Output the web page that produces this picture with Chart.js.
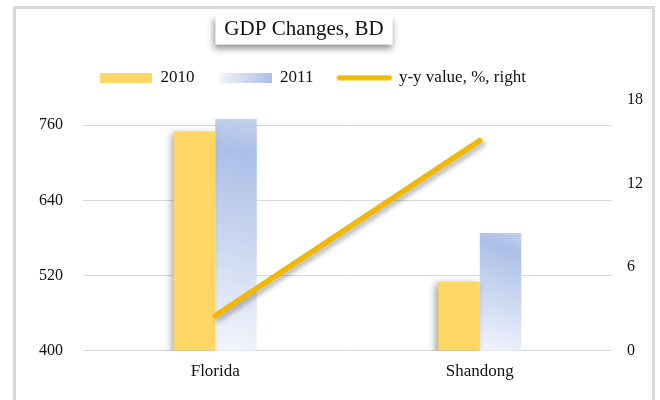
<!DOCTYPE html>
<html>
<head>
<meta charset="utf-8">
<script src="https://cdn.jsdelivr.net/npm/chart.js@4.4.1/dist/chart.umd.min.js"></script>
<style>
  html, body { margin: 0; padding: 0; background: #fff; }
</style>
</head>
<body>
<canvas id="gdp" width="660" height="400"></canvas>
<script>
// chart data
var regions = ['Florida', 'Shandong'];
var gdp2010 = [750, 510];
var gdp2011 = [770, 588];
var yyValue = [2.5, 15.1];
var leftTicks = [400, 520, 640, 760];
var rightTicks = [0, 6, 12, 18];

var SERIF = "'Liberation Serif', 'Times New Roman', serif";
var YELLOW = '#fdd663';
var GOLD = '#f2b800';
var TEXT = '#111';
var CAT_PCT = 0.314;

// gradient from the bottom left corner (light) to the top right corner (blue)
function blueGradient(ctx, x0, y0, x1, y1) {
  var g = ctx.createLinearGradient(x0, y0, x1, y1);
  g.addColorStop(0, '#f3f5fc');
  g.addColorStop(0.85, '#abbfe7');
  g.addColorStop(1, '#c3d1ee');
  return g;
}

// 2011 bars: one gradient per bar, placed from the scales
function bar2011Fill(c) {
  var chart = c.chart;
  var xs = chart.scales.x, ys = chart.scales.y;
  if (!chart.chartArea || !xs || !ys || c.type !== 'data') return '#abbfe7';
  var xc = xs.getPixelForValue(c.dataIndex);
  var bw = xs.width / regions.length * CAT_PCT / 2;
  var top = ys.getPixelForValue(c.raw);
  var base = ys.getPixelForValue(ys.min);
  return blueGradient(chart.ctx, xc, base, xc + bw, top);
}

// legend markers
function marker(w, h, paint) {
  var c = document.createElement('canvas');
  c.width = w; c.height = h;
  paint(c.getContext('2d'), w, h);
  return c;
}
var markers = [
  marker(52, 10, function (c, w, h) { c.fillStyle = YELLOW; c.fillRect(0, 0, w, h); }),
  marker(52, 10, function (c, w, h) {
    var g = c.createLinearGradient(0, 0, w, 0);
    g.addColorStop(0, '#f1f4fb');
    g.addColorStop(1, '#abbfe7');
    c.fillStyle = g; c.fillRect(0, 0, w, h);
  }),
  marker(56, 6, function (c, w, h) {
    c.strokeStyle = GOLD; c.lineWidth = 5; c.lineCap = 'round';
    c.beginPath(); c.moveTo(3, 3); c.lineTo(w - 3, 3); c.stroke();
  })
];

// frame, title box, shadows
var decoPlugin = {
  id: 'deco',
  afterLayout: function (chart) {
    var lg = chart.legend, w = lg.right - lg.left;
    lg.left = 313 - w / 2; lg.right = lg.left + w;
    lg.top -= 4; lg.bottom -= 4;
    var tb = chart.titleBlock, tw = tb.right - tb.left;
    tb.left = 304 - tw / 2; tb.right = tb.left + tw;
  },
  beforeDraw: function (chart) {
    var ctx = chart.ctx;
    ctx.save();
    ctx.strokeStyle = '#d9d9d9';
    ctx.lineWidth = 3;
    ctx.strokeRect(14.5, 7.5, 639, 420);
    // title box
    var tb = chart.titleBlock;
    ctx.font = '21px ' + SERIF;
    var tw = ctx.measureText(chart.options.plugins.title.text).width;
    var cx = (tb.left + tb.right) / 2, cy = tb.top + 13 + 12.6;
    ctx.shadowColor = 'rgba(0,0,0,0.45)';
    ctx.shadowBlur = 7;
    ctx.shadowOffsetX = -1;
    ctx.shadowOffsetY = 4;
    ctx.fillStyle = '#fff';
    ctx.fillRect(cx - tw / 2 - 9, cy - 15, tw + 18, 30);
    ctx.restore();
  },
  beforeDatasetDraw: function (chart, args) {
    if (args.index === 1) return;
    var ctx = chart.ctx;
    ctx.save();
    if (args.index === 0) {
      ctx.shadowColor = 'rgba(0,0,0,0.35)';
      ctx.shadowBlur = 7;
      ctx.shadowOffsetX = -3;
      ctx.shadowOffsetY = 1;
    } else {
      ctx.shadowColor = 'rgba(0,0,0,0.3)';
      ctx.shadowBlur = 5;
      ctx.shadowOffsetX = 3;
      ctx.shadowOffsetY = 3;
    }
  },
  afterDatasetDraw: function (chart, args) {
    if (args.index !== 1) chart.ctx.restore();
  }
};

var ctx = document.getElementById('gdp');
var gdpChart = new Chart(ctx, {
  type: 'bar',
  data: {
    labels: regions,
    datasets: [
      {
        label: '2010',
        data: gdp2010,
        backgroundColor: YELLOW,
        yAxisID: 'y',
        order: 1
      },
      {
        label: '2011',
        data: gdp2011,
        backgroundColor: bar2011Fill,
        yAxisID: 'y',
        order: 1
      },
      {
        type: 'line',
        label: 'y-y value, %, right',
        data: yyValue,
        borderColor: GOLD,
        borderWidth: 5.5,
        borderCapStyle: 'round',
        pointRadius: 0,
        pointHoverRadius: 0,
        tension: 0,
        yAxisID: 'y1',
        order: 0
      }
    ]
  },
  plugins: [decoPlugin],
  options: {
    responsive: false,
    animation: false,
    devicePixelRatio: 1,
    datasets: {
      bar: { barPercentage: 1, categoryPercentage: CAT_PCT }
    },
    layout: {
      padding: { left: 19, right: 2, top: 4, bottom: 7 }
    },
    plugins: {
      title: {
        display: true,
        text: 'GDP Changes, BD',
        color: TEXT,
        font: { family: SERIF, size: 21, weight: 'normal' },
        padding: { top: 13, bottom: 6 }
      },
      legend: {
        display: true,
        labels: {
          usePointStyle: true,
          pointStyleWidth: 52,
          padding: 25,
          color: TEXT,
          font: { family: SERIF, size: 17 },
          generateLabels: function (chart) {
            return chart.data.datasets.map(function (ds, i) {
              return {
                text: ds.label,
                pointStyle: markers[i],
                fillStyle: 'transparent',
                strokeStyle: 'transparent',
                lineWidth: 0,
                hidden: false,
                datasetIndex: i,
                fontColor: TEXT
              };
            });
          }
        }
      },
      tooltip: { enabled: false }
    },
    scales: {
      x: {
        grid: { display: false, drawTicks: false },
        border: { display: false },
        ticks: { color: TEXT, padding: 11, font: { family: SERIF, size: 17 } }
      },
      y: {
        position: 'left',
        min: 400,
        max: 800,
        afterBuildTicks: function (axis) {
          axis.ticks = leftTicks.map(function (v) { return { value: v }; });
        },
        grid: { color: '#d9d9d9', lineWidth: 1, drawTicks: false },
        border: { display: false },
        ticks: { color: TEXT, padding: 20, font: { family: SERIF, size: 16 } }
      },
      y1: {
        position: 'right',
        min: 0,
        max: 18,
        afterBuildTicks: function (axis) {
          axis.ticks = rightTicks.map(function (v) { return { value: v }; });
        },
        grid: { display: false, drawTicks: false },
        border: { display: false },
        ticks: { color: TEXT, padding: 15, font: { family: SERIF, size: 16 } }
      }
    }
  }
});
</script>
</body>
</html>
